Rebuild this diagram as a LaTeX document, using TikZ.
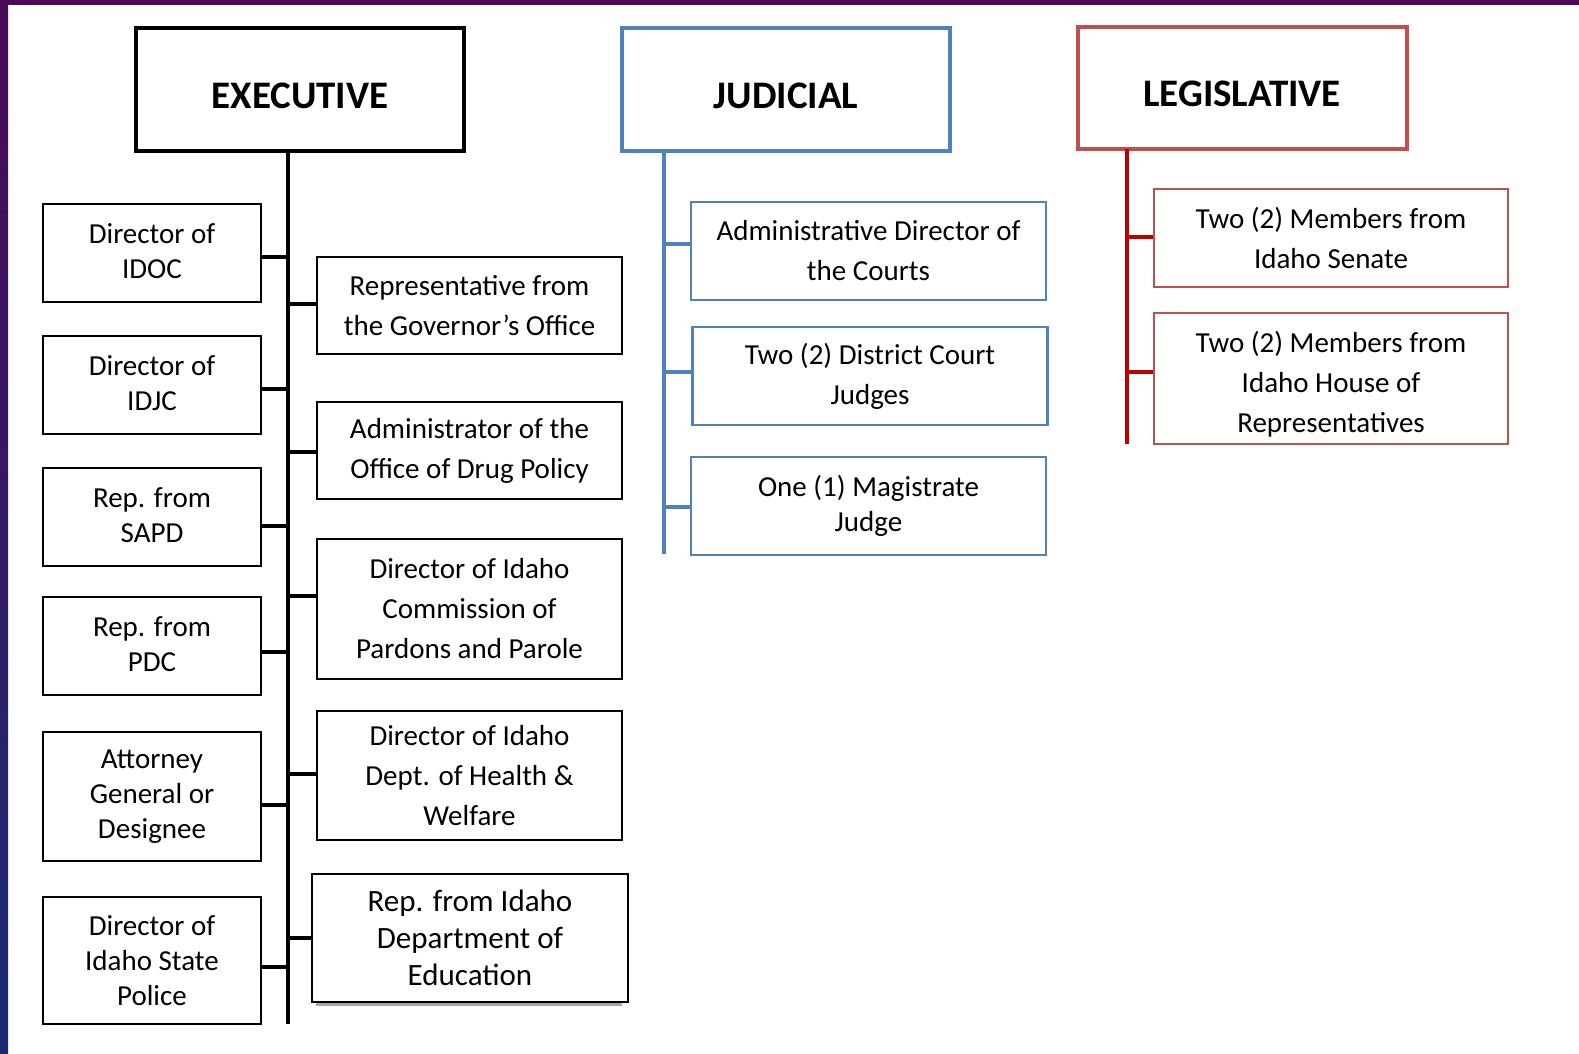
\documentclass[tikz,border=0pt]{standalone}
\usepackage{fontspec}
\setmainfont{Carlito}
\definecolor{jblue}{HTML}{4F81BD}
\definecolor{lred}{HTML}{C0504D}
\definecolor{ltrunk}{HTML}{C00000}
\definecolor{stripA}{HTML}{4A0B55}
\definecolor{stripB}{HTML}{1A2B72}
\begin{document}
\begin{tikzpicture}[x=1pt,y=-1pt,
  hbox/.style={draw, line width=4.5pt, rectangle, inner sep=0pt, align=center},
  htext/.style={font=\fontsize{39}{44}\selectfont\bfseries},
  sbox/.style={draw, line width=2.2pt, rectangle, inner sep=0pt, align=center,
    fill=white, font=\fontsize{29}{35}\selectfont},
  wide/.style={font=\fontsize{29}{40}\selectfont},
  trunk/.style={line width=4pt},
  conn/.style={line width=4pt},
]
\useasboundingbox (0,0) rectangle (1579,1054);
\fill[white] (0,0) rectangle (1579,1054);
\fill[stripA] (0,0) rectangle (1579,5);
\shade[top color=stripA, bottom color=stripB] (0,0) rectangle (8,1054);

% ---------- headers
\node[hbox, minimum width=328, minimum height=123] (ex) at (300,89.5) {};
\node[htext] (ext) at (300,96) {EXECUTIVE};
\node[hbox, draw=jblue, minimum width=328, minimum height=123] (ju) at (786,89.5) {};
\node[htext] (jut) at (786,96) {JUDICIAL};
\node[hbox, draw=lred, minimum width=329, minimum height=122] (le) at (1242.5,88) {};
\node[htext] (let) at (1242,94) {LEGISLATIVE};

% ---------- trunks
\coordinate (exT) at (288,151);
\coordinate (exB) at (288,1024);
\coordinate (juT) at (664,151);
\coordinate (juB) at (664,554);
\coordinate (leT) at (1127,149);
\coordinate (leB) at (1127,444);
\draw[trunk] (exT) -- (exB);
\draw[trunk, jblue] (juT) -- (juB);
\draw[trunk, ltrunk] (leT) -- (leB);

% ---------- executive left
\node[sbox, minimum width=218, minimum height=98, text depth=3pt] (idoc) at (152,253) {Director of\\IDOC};
\node[sbox, minimum width=218, minimum height=98, text depth=3pt] (idjc) at (152,385) {Director of\\IDJC};
\node[sbox, minimum width=218, minimum height=98, text depth=3pt] (sapd) at (152,517) {Rep. from\\SAPD};
\node[sbox, minimum width=218, minimum height=98, text depth=3pt] (pdc) at (152,646) {Rep. from\\PDC};
\node[sbox, minimum width=218, minimum height=129] (ag) at (152,796.5) {Attorney\\General or\\Designee};
\node[sbox, minimum width=218, minimum height=127] (isp) at (152,960.5) {Director of\\Idaho State\\Police};

% ---------- executive right
\node[sbox, wide, minimum width=305, minimum height=97] (gov) at (469.5,305.5) {Representative from\\the Governor’s Office};
\node[sbox, wide, minimum width=305, minimum height=97] (odp) at (469.5,450.5) {Administrator of the\\Office of Drug Policy};
\node[sbox, wide, minimum width=305, minimum height=140] (ppc) at (469.5,609) {Director of Idaho\\Commission of\\Pardons and Parole};
\node[sbox, wide, minimum width=305, minimum height=129] (hw) at (469.5,775.5) {Director of Idaho\\Dept. of Health \&\\Welfare};
\fill[gray!70] (316,1000) rectangle (622,1006);
\node[sbox, font=\fontsize{31}{37}\selectfont, minimum width=316, minimum height=128] (edu) at (470,938) {Rep. from Idaho\\Department of\\Education};

% ---------- judicial
\node[sbox, wide, draw=jblue, minimum width=355, minimum height=98] (adc) at (868.5,251) {Administrative Director of\\the Courts};
\node[sbox, wide, draw=jblue, minimum width=355, minimum height=98] (dcj) at (870,376) {Two (2) District Court\\Judges};
\node[sbox, draw=jblue, minimum width=355, minimum height=98] (mag) at (868.5,506) {One (1) Magistrate\\Judge};

% ---------- legislative
\node[sbox, wide, draw=lred, minimum width=354, minimum height=98] (sen) at (1331,238) {Two (2) Members from\\Idaho Senate};
\node[sbox, wide, draw=lred, minimum width=354, minimum height=131] (hou) at (1331,378.5) {};
\node[wide, align=center, inner sep=0pt] (hout) at (1331,384) {Two (2) Members from\\Idaho House of\\Representatives};

% ---------- connectors executive
\draw[conn] ([yshift=-4pt]idoc.east) -- ([yshift=-4pt]idoc.east -| exT);
\draw[conn] ([yshift=-4pt]idjc.east) -- ([yshift=-4pt]idjc.east -| exT);
\draw[conn] ([yshift=-9pt]sapd.east) -- ([yshift=-9pt]sapd.east -| exT);
\draw[conn] ([yshift=-6pt]pdc.east) -- ([yshift=-6pt]pdc.east -| exT);
\draw[conn] ([yshift=-8pt]ag.east) -- ([yshift=-8pt]ag.east -| exT);
\draw[conn] ([yshift=-6pt]isp.east) -- ([yshift=-6pt]isp.east -| exT);
\draw[conn] ([yshift=2pt]gov.west) -- ([yshift=2pt]gov.west -| exT);
\draw[conn] ([yshift=-1pt]odp.west) -- ([yshift=-1pt]odp.west -| exT);
\draw[conn] ([yshift=13pt]ppc.west) -- ([yshift=13pt]ppc.west -| exT);
\draw[conn] ([yshift=2pt]hw.west) -- ([yshift=2pt]hw.west -| exT);
\draw[conn] (edu.west) -- (edu.west -| exT);

% ---------- connectors judicial
\draw[conn, jblue] ([yshift=7pt]adc.west) -- ([yshift=7pt]adc.west -| juT);
\draw[conn, jblue] ([yshift=4pt]dcj.west) -- ([yshift=4pt]dcj.west -| juT);
\draw[conn, jblue] ([yshift=-1pt]mag.west) -- ([yshift=-1pt]mag.west -| juT);

% ---------- connectors legislative
\draw[conn, ltrunk] ([yshift=1pt]sen.west) -- ([yshift=1pt]sen.west -| leT);
\draw[conn, ltrunk] ([yshift=7pt]hou.west) -- ([yshift=7pt]hou.west -| leT);
\end{tikzpicture}
\end{document}
